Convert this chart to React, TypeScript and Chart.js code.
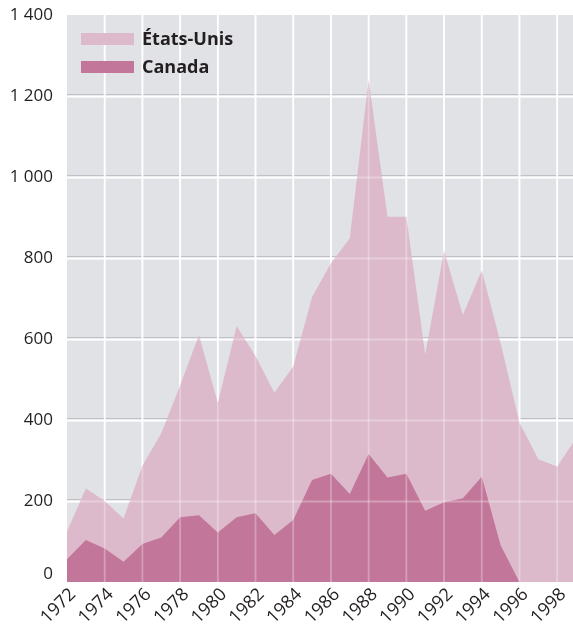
import React, { useEffect, useRef } from "react";
import { Chart, registerables } from "chart.js";

Chart.register(...registerables);

const years = [1972, 1973, 1974, 1975, 1976, 1977, 1978, 1979, 1980, 1981, 1982, 1983, 1984, 1985, 1986, 1987, 1988, 1989, 1990, 1991, 1992, 1993, 1994, 1995, 1996, 1997, 1998, 1999];
const usValues = [125, 231, 200, 157, 287, 367, 485, 610, 442, 632, 558, 467, 532, 704, 787, 849, 1240, 902, 902, 562, 818, 659, 770, 590, 394, 303, 285, 355];
const canadaValues = [56, 104, 83, 50, 94, 110, 160, 165, 122, 160, 170, 116, 153, 252, 267, 217, 316, 258, 267, 176, 197, 207, 260, 91, 0, null, null, null];
const yTicks = [0, 200, 400, 600, 800, 1000, 1200, 1400];
const seriesLabels = ["États-Unis", "Canada"];
const seriesColors = ["#dcbacb", "#c27699"];

const FONT = "'Open Sans', 'Noto Sans', sans-serif";
const TEXT = "#231f20";

const fmt = (v: number) => String(v).replace(/\B(?=(\d{3})+(?!\d))/g, " ");

const gridPlugin = {
  id: "customGrid",
  beforeDatasetsDraw(chart: any) {
    const { ctx, chartArea } = chart;
    const { left, right, top, bottom } = chartArea;
    const xs = chart.scales.x;
    const ys = chart.scales.y;
    ctx.save();
    ctx.fillStyle = "#e1e2e6";
    ctx.fillRect(left, top, right - left, bottom - top);
    yTicks.forEach((t) => {
      if (t === 0 || t === 1400) return;
      const y = ys.getPixelForValue(t);
      ctx.fillStyle = "#bfc0c8";
      ctx.fillRect(left, y - 2, right - left, 1.5);
      ctx.fillStyle = "#ffffff";
      ctx.fillRect(left, y - 0.5, right - left, 2);
    });
    for (let yr = 1974; yr <= 1998; yr += 2) {
      const x = xs.getPixelForValue(yr);
      ctx.fillStyle = "#ffffff";
      ctx.fillRect(x - 0.9, top, 1.8, bottom - top);
    }
    ctx.restore();
  },
  afterDatasetsDraw(chart: any) {
    const { ctx, chartArea } = chart;
    const { left, right, top, bottom } = chartArea;
    const xs = chart.scales.x;
    const ys = chart.scales.y;
    ctx.save();
    ctx.fillStyle = "rgba(255,255,255,0.3)";
    yTicks.forEach((t) => {
      if (t === 0 || t === 1400) return;
      const y = ys.getPixelForValue(t);
      ctx.fillRect(left, y - 0.5, right - left, 2);
    });
    for (let yr = 1974; yr <= 1998; yr += 2) {
      const x = xs.getPixelForValue(yr);
      ctx.fillRect(x - 0.9, top, 1.8, bottom - top);
    }
    // zero label, lifted above the x labels as in the original
    ctx.fillStyle = TEXT;
    ctx.font = `17px ${FONT}`;
    ctx.textAlign = "right";
    ctx.textBaseline = "middle";
    ctx.fillText("0", left - 14, ys.getPixelForValue(0) - 8);
    // legend
    const bx = 81;
    const rows = [39, 67];
    seriesLabels.forEach((lab, i) => {
      ctx.fillStyle = seriesColors[i];
      ctx.fillRect(bx, rows[i] - 6, 53, 12);
      ctx.fillStyle = TEXT;
      ctx.font = `bold 18px ${FONT}`;
      ctx.textAlign = "left";
      ctx.textBaseline = "middle";
      ctx.fillText(lab, 142, rows[i] + 0.5);
    });
    ctx.restore();
  },
};

export default function App() {
  const ref = useRef<HTMLCanvasElement>(null);
  useEffect(() => {
    document.body.style.margin = "0";
    const canvas = ref.current!;
    const chart = new Chart(canvas, {
      type: "line",
      data: {
        datasets: [
          {
            label: seriesLabels[0],
            data: years.map((y, i) => ({ x: y, y: usValues[i] })),
            backgroundColor: seriesColors[0],
            borderWidth: 0,
            pointRadius: 0,
            fill: "origin",
            order: 2,
            tension: 0,
          },
          {
            label: seriesLabels[1],
            data: years.map((y, i) => ({ x: y, y: canadaValues[i] as any })),
            backgroundColor: seriesColors[1],
            borderWidth: 0,
            pointRadius: 0,
            fill: "origin",
            order: 1,
            tension: 0,
            spanGaps: false,
          },
        ],
      },
      plugins: [gridPlugin],
      options: {
        animation: false,
        responsive: false,
        events: [],
        layout: { padding: { top: 15, right: 0, left: 0, bottom: 0 } },
        plugins: { legend: { display: false }, tooltip: { enabled: false } },
        scales: {
          x: {
            type: "linear",
            min: 1972,
            max: 1998.84,
            border: { display: false },
            grid: { display: false, drawTicks: false },
            ticks: {
              stepSize: 2,
              includeBounds: false,
              minRotation: 45,
              maxRotation: 45,
              padding: 2,
              labelOffset: 6,
              color: TEXT,
              font: { family: FONT, size: 18 },
              callback: (v: any) => String(v),
            },
            afterFit: (s: any) => {
              s.height = 44;
              s.paddingLeft = 0;
              s.paddingRight = 0;
            },
          },
          y: {
            min: 0,
            max: 1400,
            border: { display: false },
            grid: { display: false, drawTicks: false },
            ticks: {
              stepSize: 200,
              padding: 14,
              color: TEXT,
              font: { family: FONT, size: 17 },
              callback: (v: any) => (Number(v) === 0 ? "" : fmt(Number(v))),
            },
            afterFit: (s: any) => {
              s.width = 67;
              s.paddingTop = 0;
              s.paddingBottom = 0;
            },
          },
        },
      },
    });
    return () => chart.destroy();
  }, []);
  return (
    <div style={{ width: 573, height: 626 }}>
      <canvas ref={ref} width={573} height={626} />
    </div>
  );
}
